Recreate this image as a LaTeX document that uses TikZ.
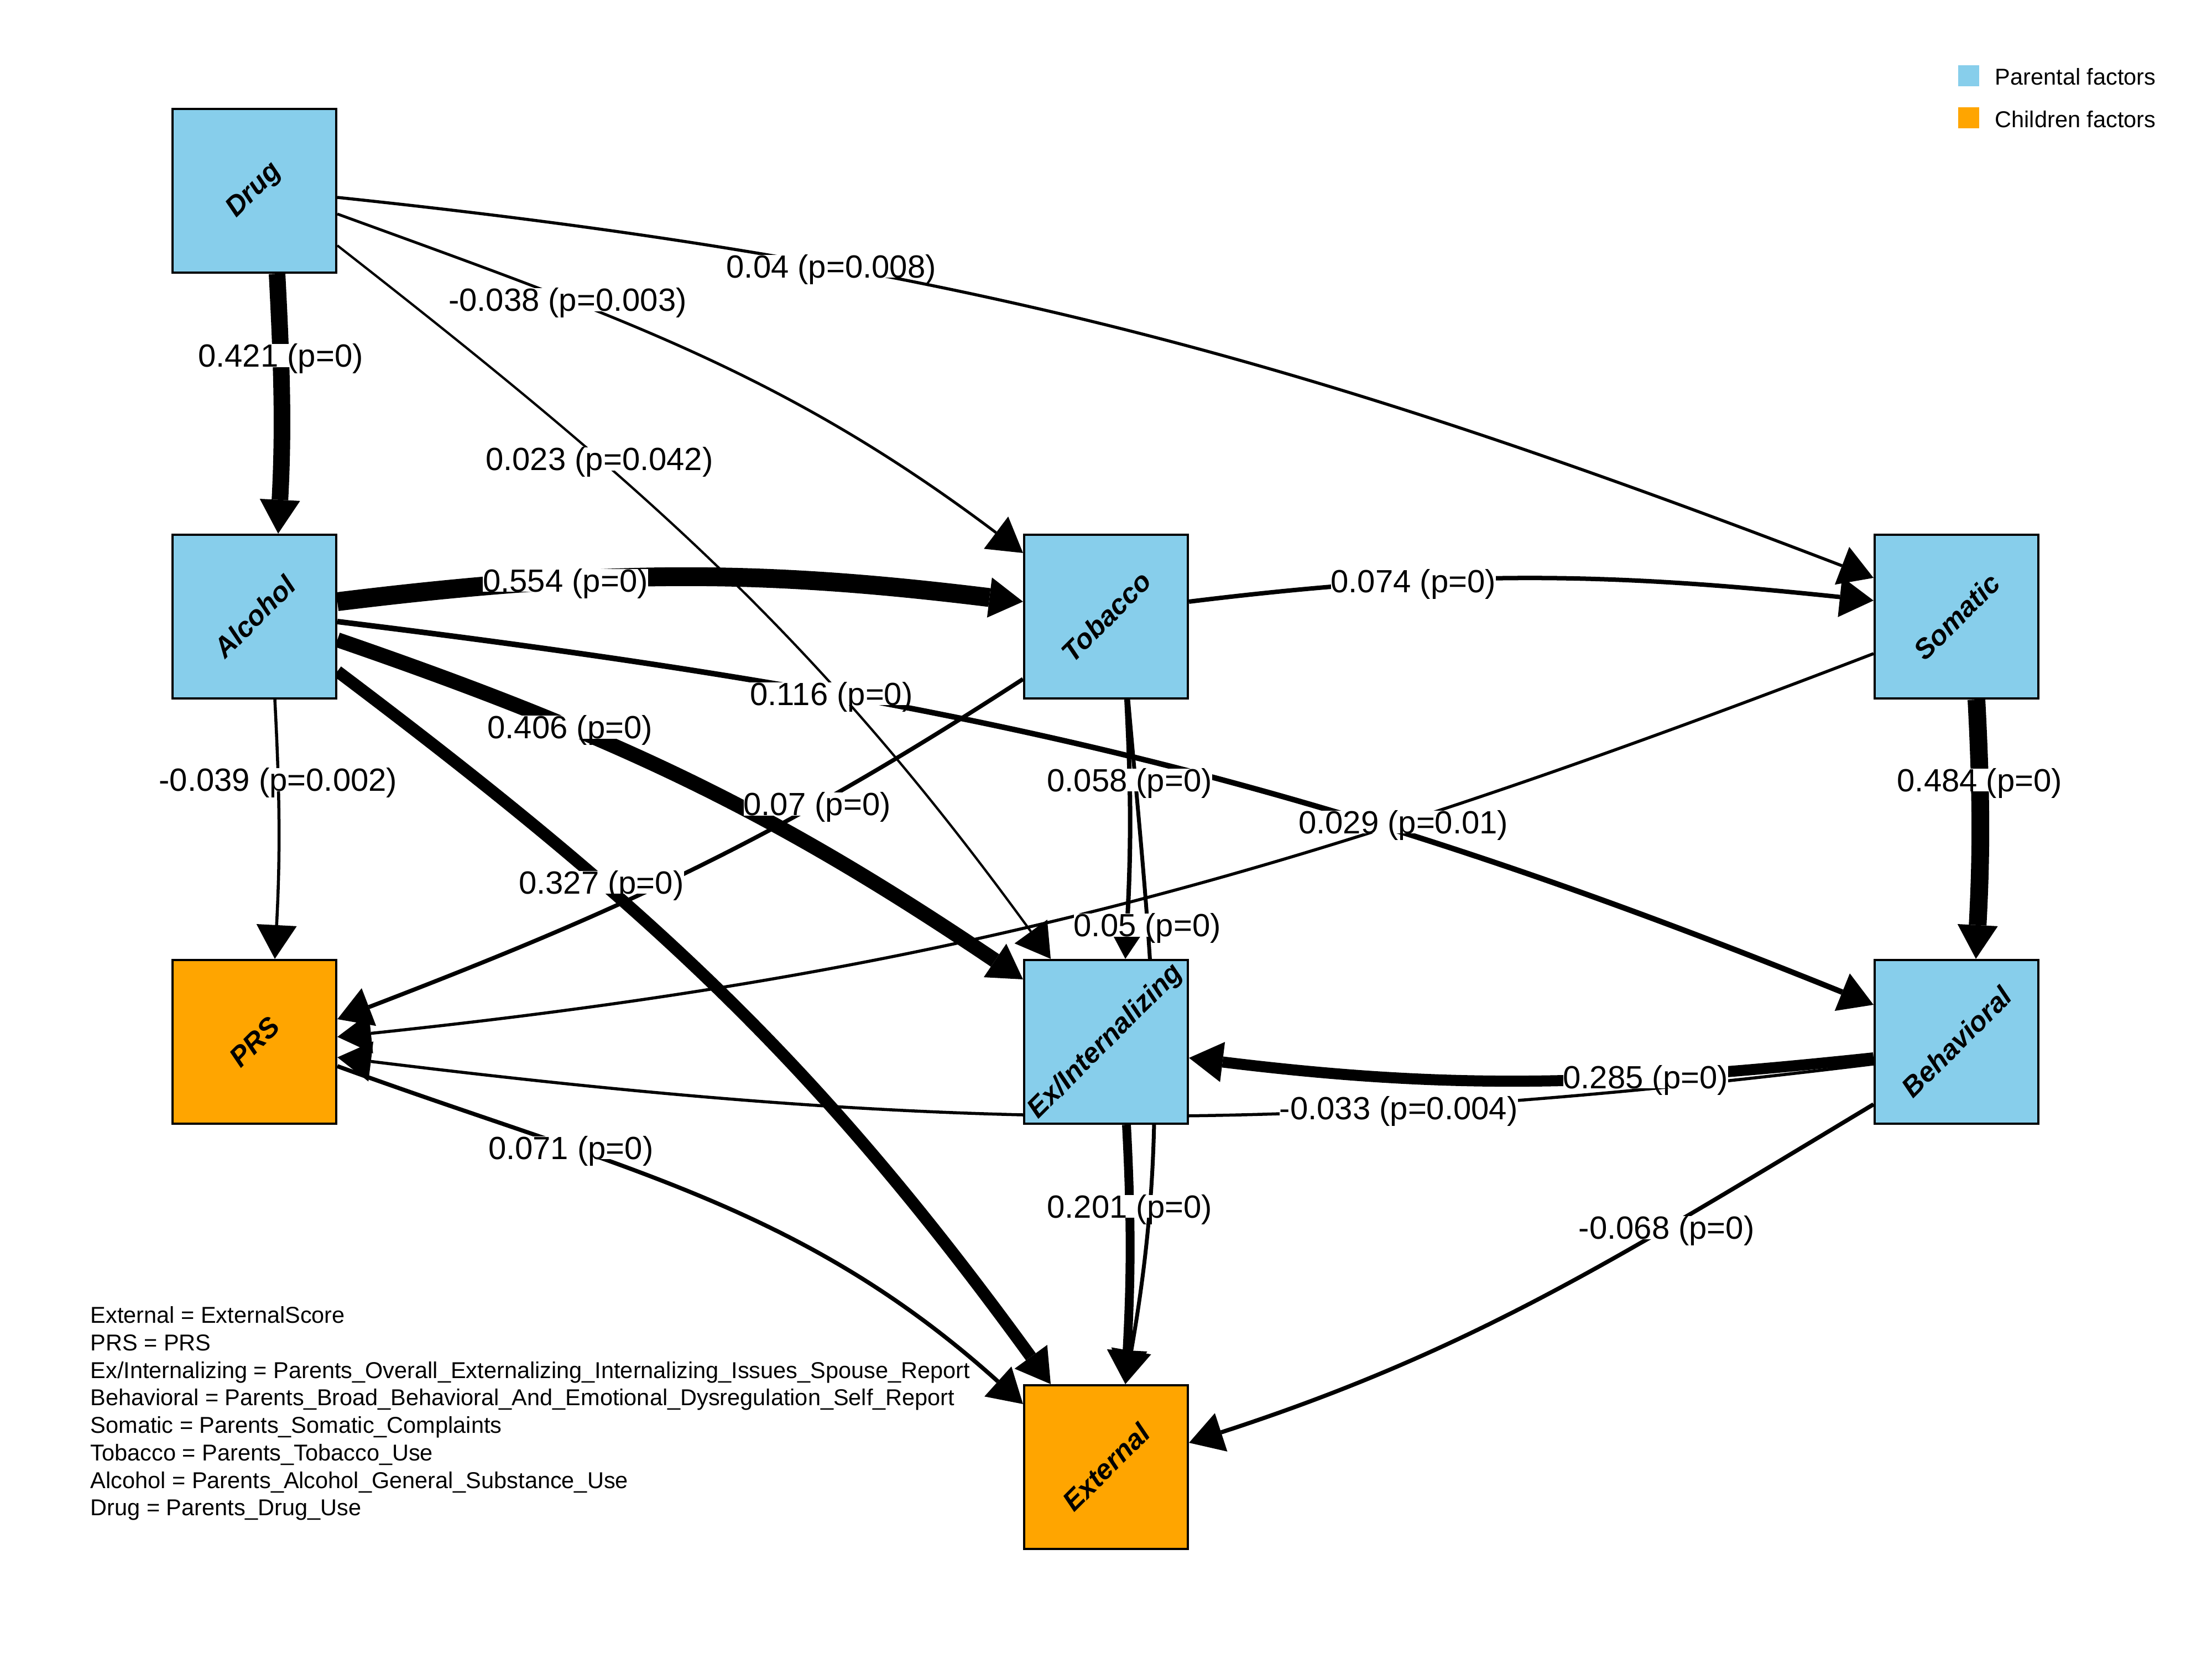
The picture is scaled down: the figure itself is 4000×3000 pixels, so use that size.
\documentclass[tikz,border=0pt]{standalone}
\usepackage{fontspec}
\setmainfont{Liberation Sans}
\usetikzlibrary{arrows.meta,calc}
\definecolor{parcol}{HTML}{87CEEB}
\definecolor{chicol}{HTML}{FFA500}
\pgfdeclarelayer{bglayer}
\pgfdeclarelayer{edgelayer}
\pgfdeclarelayer{labellayer}
\pgfsetlayers{bglayer,edgelayer,labellayer,main}
\begin{document}
\begin{tikzpicture}[x=0.01cm,y=0.01cm,
  nbox/.style={draw=black, line width=0.04cm, minimum size=2.96cm, inner sep=0pt},
  parbox/.style={nbox, fill=parcol},
  chibox/.style={nbox, fill=chicol},
  nlab/.style={rotate=45, anchor=center, inner sep=0pt, font=\fontsize{14.3}{17}\selectfont\bfseries\itshape},
  elab/.style={fill=white, inner sep=0pt, text height=11.8pt, text depth=0pt, font=\fontsize{16.5}{19}\selectfont},
  conn/.style={draw=black, -{Triangle[length=0.61cm,width=0.73cm,line width=0pt]}},
  legtxt/.style={inner sep=0pt, font=\fontsize{11.8}{14.14}\selectfont}
]
\begin{pgfonlayer}{bglayer}
\path[use as bounding box, fill=white] (0,0) rectangle (4000,3000);
\end{pgfonlayer}

% nodes
\node[parbox, label={[nlab]center:Drug}] (drug) at (460,2655) {};
\node[parbox, label={[nlab]center:Alcohol}] (alc) at (460,1885) {};
\node[chibox, label={[nlab]center:PRS}] (prs) at (460,1116) {};
\node[parbox, label={[nlab]center:Tobacco}] (tob) at (2000,1885) {};
\node[parbox, label={[nlab]center:Ex/Internalizing}] (exi) at (2000,1116) {};
\node[chibox, label={[nlab]center:External}] (ext) at (2000,347) {};
\node[parbox, label={[nlab]center:Somatic}] (som) at (3538,1885) {};
\node[parbox, label={[nlab]center:Behavioral}] (beh) at (3538,1116) {};

% edges
\begin{pgfonlayer}{edgelayer}
\draw[conn,line width=0.055cm] ($(drug.east)+(0,-12)$) to[out=-6,in=159] coordinate[pos=.30] (l3) ($(som.west)+(0,70)$);
\draw[conn,line width=0.05cm] ($(drug.east)+(0,-42)$) to[out=-20,in=143] coordinate[pos=.305] (l2) ($(tob.west)+(0,115)$);
\draw[conn,line width=0.042cm] ($(drug.east)+(0,-99)$) to[out=-38,in=126] coordinate[pos=.32] (l4) ($(exi.north)+(-100,0)$);
\draw[conn,line width=0.30cm] ($(drug.south)+(41,0)$) to[out=-87,in=87] coordinate[pos=.30] (l1) ($(alc.north)+(43,0)$);
\draw[conn,line width=0.055cm] ($(alc.south)+(37,0)$) to[out=-87,in=87] coordinate[pos=.295] (l10) ($(prs.north)+(37,0)$);
\draw[conn,line width=0.10cm] ($(alc.east)+(0,-9)$) to[out=-7,in=158] coordinate[pos=.30] (l7) ($(beh.west)+(0,67)$);
\draw[conn,line width=0.075cm] ($(tob.west)+(0,-113)$) to[out=213,in=21] coordinate[pos=.30] (l12) ($(prs.east)+(0,41)$);
\draw[conn,line width=0.055cm] ($(som.west)+(0,-67)$) to[out=201,in=6] coordinate[pos=.30] (l15) ($(prs.east)+(0,9)$);
\draw[conn,line width=0.055cm] ($(beh.west)+(0,-40)$) to[out=187,in=-7] coordinate[pos=.295] (l17) ($(prs.east)+(0,-28)$);
\draw[conn,line width=0.075cm] ($(prs.east)+(0,-44)$) to[out=-20,in=138] coordinate[pos=.305] (l20) ($(ext.west)+(0,114)$);
\draw[conn,line width=0.075cm] ($(beh.west)+(0,-113)$) to[out=211,in=18] coordinate[pos=.30] (l18) ($(ext.east)+(0,44)$);
\draw[conn,line width=0.08cm] ($(tob.east)+(0,27)$) to[out=7,in=174] coordinate[pos=.315] (l6) ($(som.west)+(0,29)$);
\draw[conn,line width=0.07cm] ($(tob.south)+(40,0)$) to[out=-85,in=80] coordinate[pos=.315] (l13) ($(ext.north)+(35,0)$);
\draw[conn,line width=0.08cm] ($(tob.south)+(37,0)$) to[out=-87,in=87] coordinate[pos=.295] (l11) ($(exi.north)+(35,0)$);
\draw[conn,line width=0.16cm] ($(exi.south)+(37,0)$) to[out=-87,in=87] coordinate[pos=.30] (l19) ($(ext.north)+(35,0)$);
\draw[conn,line width=0.20cm] ($(beh.west)+(0,-29)$) to[out=186,in=-7] coordinate[pos=.32] (l16) ($(exi.east)+(0,-29)$);
\draw[conn,line width=0.22cm] ($(alc.east)+(0,-99)$) to[out=-37,in=126] coordinate[pos=.32] (l9) ($(ext.north)+(-100,0)$);
\draw[conn,line width=0.27cm] ($(alc.east)+(0,-42)$) to[out=-19,in=146] coordinate[pos=.31] (l8) ($(exi.west)+(0,113)$);
\draw[conn,line width=0.32cm] ($(som.south)+(36,0)$) to[out=-87,in=87] coordinate[pos=.295] (l14) ($(beh.north)+(35,0)$);
\draw[conn,line width=0.34cm] ($(alc.east)+(0,27)$) to[out=7,in=173] coordinate[pos=.32] (l5) ($(tob.west)+(0,27)$);
\end{pgfonlayer}

% edge labels
\begin{pgfonlayer}{labellayer}
\node[elab] (t1) at (l1) {0.421 (p=0)};
\node[elab] (t2) at (l2) {-0.038 (p=0.003)};
\node[elab] (t3) at (l3) {0.04 (p=0.008)};
\node[elab] (t4) at (l4) {0.023 (p=0.042)};
\node[elab] (t5) at (l5) {0.554 (p=0)};
\node[elab] (t6) at (l6) {0.074 (p=0)};
\node[elab] (t7) at (l7) {0.116 (p=0)};
\node[elab] (t8) at (l8) {0.406 (p=0)};
\node[elab] (t9) at (l9) {0.327 (p=0)};
\node[elab] (t10) at (l10) {-0.039 (p=0.002)};
\node[elab] (t11) at (l11) {0.058 (p=0)};
\node[elab] (t12) at (l12) {0.07 (p=0)};
\node[elab] (t13) at (l13) {0.05 (p=0)};
\node[elab] (t14) at (l14) {0.484 (p=0)};
\node[elab] (t15) at (l15) {0.029 (p=0.01)};
\node[elab] (t16) at (l16) {0.285 (p=0)};
\node[elab] (t17) at (l17) {-0.033 (p=0.004)};
\node[elab] (t18) at (l18) {-0.068 (p=0)};
\node[elab] (t19) at (l19) {0.201 (p=0)};
\node[elab] (t20) at (l20) {0.071 (p=0)};
\end{pgfonlayer}

% legend top right
\node[fill=parcol, minimum size=0.38cm, inner sep=0pt] (legpar) at (3560,2863) {};
\node[fill=chicol, minimum size=0.38cm, inner sep=0pt] (legchi) at (3560,2787) {};
\node[legtxt, anchor=base west] (legpartxt) at (3607,2846) {Parental factors};
\node[legtxt, anchor=base west] (legchitxt) at (3607,2769) {Children factors};

% key bottom left
\node[legtxt, anchor=north west, align=left] (key) at (163,638) {External = ExternalScore\\
PRS = PRS\\
Ex/Internalizing = Parents\_Overall\_Externalizing\_Internalizing\_Issues\_Spouse\_Report\\
Behavioral = Parents\_Broad\_Behavioral\_And\_Emotional\_Dysregulation\_Self\_Report\\
Somatic = Parents\_Somatic\_Complaints\\
Tobacco = Parents\_Tobacco\_Use\\
Alcohol = Parents\_Alcohol\_General\_Substance\_Use\\
Drug = Parents\_Drug\_Use};
\end{tikzpicture}
\end{document}
